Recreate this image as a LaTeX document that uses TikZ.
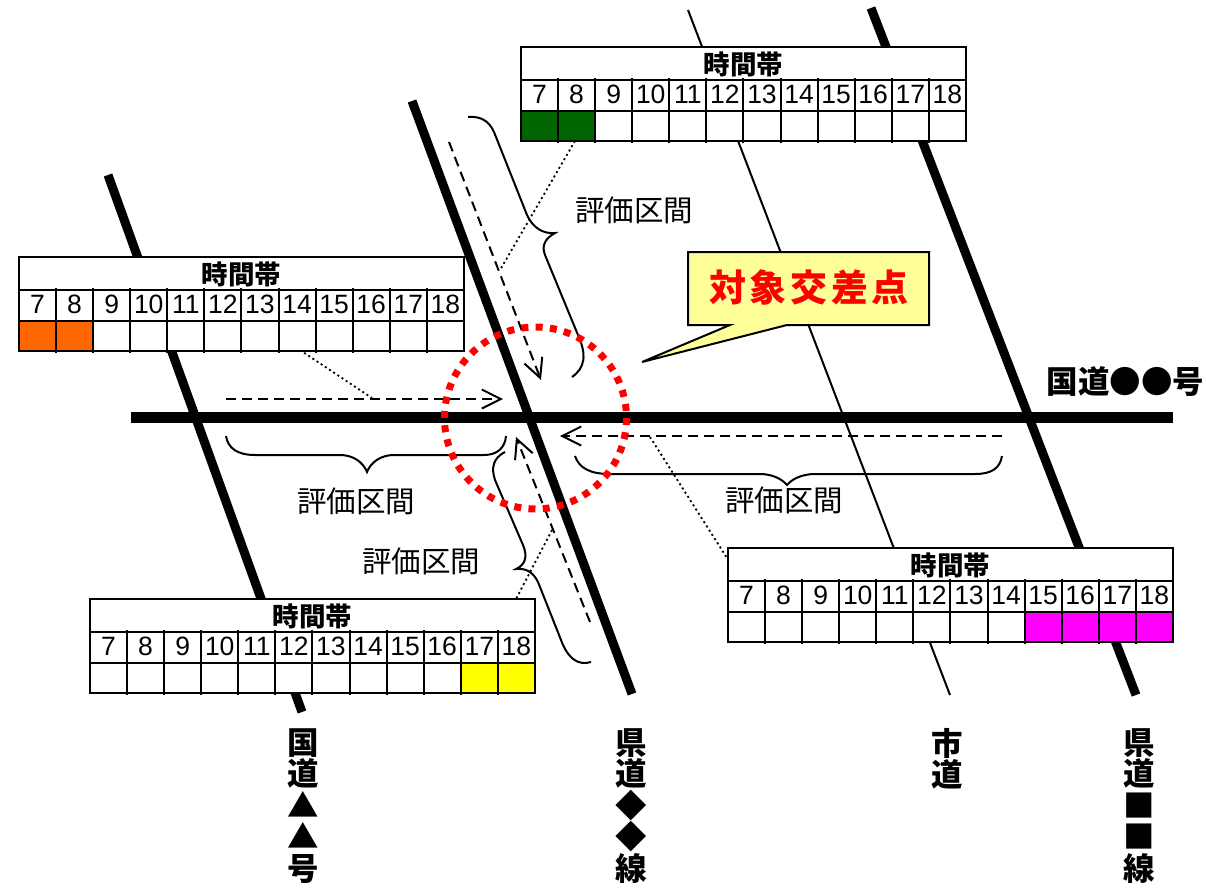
\documentclass[tikz,border=0pt]{standalone}
\usepackage{fontspec, xcolor}
\usetikzlibrary{arrows.meta}
\setmainfont{Liberation Sans}
\newfontfamily\cjk{Noto Sans CJK JP}
\definecolor{calloutfill}{HTML}{FFFF99}
\definecolor{darkgreen}{HTML}{006400}
\definecolor{orangecell}{HTML}{FF6600}
\definecolor{yellowcell}{HTML}{FFFF00}
\definecolor{magentacell}{HTML}{FF00FF}
\tikzset{>={Straight Barb[length=19pt,width=19pt,line width=2pt]}}
\tikzset{
    x=1pt, y=-1pt,
    bigroad/.style = {line width = 9pt},
    flow/.style = {->, line width = 2pt, dash pattern = on 10pt off 6pt},
    curly/.style = {line width = 2pt},
    leader/.style = {line width = 1.8pt, dash pattern = on 2pt off 3pt},
    roadname/.style = {font = \fontsize{31.5}{31.5}\selectfont\cjk\bfseries, align = center, inner sep = 0pt},
    span/.style = {font = \fontsize{29.5}{30}\selectfont\cjk, inner sep = 0pt},
    cellnum/.style = {font = \fontsize{26.5}{27}\selectfont, inner sep = 0pt, anchor = base},
    tabletitle/.style = {font = \fontsize{26.5}{27}\selectfont\cjk\bfseries, inner sep = 0pt},
    gridline/.style = {line width = 2pt, line cap = square},
}
% name, left, top, colour, filled columns
\newcommand{\timetable}[5]{
    \begin{scope}[shift = {(#2,#3)}]
    \fill [white] (0,0) rectangle (445,94);
    \foreach \c in {#5} \fill [#4] (\c*37.08,64) rectangle ++(37.08,30);
    \draw [gridline] (0,0) -- (445,0) -- (445,94) -- (0,94) -- cycle;
    \draw [gridline] (0,33) -- (445,33);
    \draw [gridline] (0,64) -- (445,64);
    \foreach \n [count = \i from 0] in {7,...,18} {
        \node [cellnum] (#1-\n) at (\i*37.08+18.5,56) {\n};
        \ifnum\i>0 \draw [gridline] (\i*37.08,31) -- (\i*37.08,96); \fi
    }
    \node [tabletitle] (#1-title) at (222.5,17) {時間帯};
    \end{scope}
}

\begin{document}
\begin{tikzpicture}
    \useasboundingbox (0,0) rectangle (1207,894);
    % roads
    \draw [line width = 2pt] (688,10) -- (950,695);
    \draw [bigroad] (108,175) -- (302,712);
    \draw [bigroad] (412,101) -- (632,694);
    \draw [bigroad] (871,8) -- (1136,695);
    \draw [line width = 11pt] (131,417) -- (1173,417);
    % dotted leaders
    \draw [leader] (575,141) -- (500,270);
    \draw [leader] (300,350) -- (372,398);
    \draw [leader] (650,437) -- (727,558);
    \draw [leader] (552,530) -- (516,599);
    % flows
    \draw [flow] (449,142) -- (541,380);
    \draw [flow] (226,399) -- (503,399);
    \draw [flow] (1002,436) -- (560,436);
    \draw [flow] (590,622) -- (516,437);
    % braces
    \draw [curly] (468,117) .. controls (481,116) and (489,121) .. (494,132) -- (527,215)
        .. controls (533,228) and (543,234) .. (555,233) .. controls (546,238) and (541,245) .. (545,255)
        -- (578,335) .. controls (587,355) and (585,368) .. (572,377);
    \draw [curly] (226,436) .. controls (228,448) and (237,455) .. (255,455) -- (340,455)
        .. controls (353,455) and (363,462) .. (367,472) .. controls (371,462) and (381,455) .. (394,455)
        -- (484,455) .. controls (497,455) and (505,448) .. (506,436);
    \draw [curly] (575,456) .. controls (579,468) and (590,474) .. (610,474) -- (760,474)
        .. controls (772,474) and (782,479) .. (787,485) .. controls (792,479) and (802,474) .. (815,474)
        -- (975,474) .. controls (992,474) and (1000,468) .. (1002,456);
    \draw [curly] (505,452) .. controls (493,458) and (491,468) .. (495,480) -- (523,545)
        .. controls (528,557) and (525,565) .. (516,569) .. controls (526,568) and (533,572) .. (538,582)
        -- (563,645) .. controls (569,658) and (578,666) .. (591,662);
    % target
    \draw [red, line width = 7pt, dash pattern = on 7pt off 7.3pt] (535.5,418) circle (91);
    \draw [fill = calloutfill, line width = 2pt] (688,252) -- (929,252) -- (929,325) -- (787,325) -- (642,362) -- (730,325) -- (688,325) -- cycle;
    \node [font = \fontsize{37}{38}\selectfont\cjk\bfseries\addfontfeature{LetterSpace=10}, text = red, inner sep = 0pt] (target) at (809,287) {対象交差点};
    % tables
    \timetable{north}{521}{47}{darkgreen}{0,1}
    \timetable{west}{19}{257}{orangecell}{0,1}
    \timetable{south}{90}{599}{yellowcell}{10,11}
    \timetable{east}{728}{548}{magentacell}{8,9,10,11}
    % section labels
    \node [span] (span-north) at (634,210) {評価区間};
    \node [span] (span-west) at (356,501) {評価区間};
    \node [span] (span-east) at (784,500) {評価区間};
    \node [span] (span-south) at (421,561) {評価区間};
    % road names
    \node [roadname] (road-main) at (1125.5,382) {国道●●号};
    \node [roadname, anchor = north] (road-a) at (303,728) {国\\道\\▲\\▲\\号};
    \node [roadname, anchor = north] (road-b) at (631,728) {県\\道\\◆\\◆\\線};
    \node [roadname, anchor = north] (road-c) at (947,728) {市\\道};
    \node [roadname, anchor = north] (road-d) at (1139,728) {県\\道\\■\\■\\線};
\end{tikzpicture}
\end{document}
